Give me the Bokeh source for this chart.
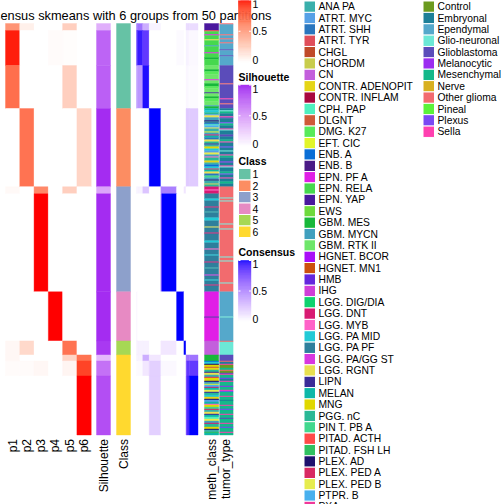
import numpy as np
from bokeh.plotting import figure
from bokeh.models import Range1d
from bokeh.core.properties import value
from bokeh.embed import file_html
from bokeh.resources import INLINE

# ------------------------------------------------------------------ data
TITLE = "Consensus skmeans with 6 groups from 50 partitions"
col_names = ["p1", "p2", "p3", "p4", "p5", "p6"]

# row segments (samples ordered as in the heatmap), group of each segment
seg_group = [1, 1, 1, 2, 3, 3, 4, 5, 6, 6, 6]
seg_size = [7, 35, 43, 78, 7, 98, 49, 14, 6, 15, 59]

# membership of each segment in partitions p1..p6
p1 = [0.55, 0.97, 0.72, 0.00, 0.03, 0.00, 0.00, 0.04, 0.04, 0.02, 0.00]
p2 = [0.08, 0.00, 0.00, 0.70, 0.00, 0.00, 0.00, 0.20, 0.00, 0.02, 0.00]
p3 = [0.00, 0.00, 0.00, 0.00, 0.60, 1.00, 0.00, 0.00, 0.00, 0.04, 0.00]
p4 = [0.00, 0.02, 0.00, 0.00, 0.00, 0.00, 1.00, 0.00, 0.00, 0.00, 0.00]
p5 = [0.25, 0.01, 0.25, 0.00, 0.25, 0.00, 0.00, 0.70, 0.22, 0.05, 0.00]
p6 = [0.00, 0.00, 0.00, 0.22, 0.00, 0.00, 0.00, 0.00, 0.70, 0.88, 1.00]

silhouette = [0.40, 0.76, 0.78, 0.97, 0.45, 0.97, 0.97, 0.93, 0.35, 0.70, 0.85]

# consensus between segments (rows x columns)
consensus = [
    [0.60, 0.60, 0.35, 0.05, 0.00, 0.00, 0.00, 0.00, 0.15, 0.15, 0.15],
    [0.85, 0.95, 0.85, 0.00, 0.00, 0.00, 0.02, 0.00, 0.05, 0.05, 0.03],
    [0.45, 0.45, 0.98, 0.00, 0.00, 0.00, 0.00, 0.00, 0.03, 0.03, 0.02],
    [0.00, 0.00, 0.00, 1.00, 0.00, 0.00, 0.00, 0.00, 0.22, 0.22, 0.22],
    [0.05, 0.05, 0.25, 0.00, 0.55, 0.55, 0.00, 0.10, 0.00, 0.00, 0.00],
    [0.00, 0.00, 0.00, 0.00, 0.70, 1.00, 0.00, 0.00, 0.00, 0.00, 0.00],
    [0.04, 0.00, 0.00, 0.00, 0.00, 0.00, 1.00, 0.00, 0.00, 0.00, 0.00],
    [0.06, 0.06, 0.06, 0.00, 0.10, 0.10, 0.00, 1.00, 0.00, 0.00, 0.00],
    [0.05, 0.05, 0.35, 0.10, 0.00, 0.00, 0.00, 0.00, 0.60, 0.60, 0.60],
    [0.02, 0.02, 0.10, 0.20, 0.03, 0.03, 0.00, 0.00, 0.70, 0.85, 0.85],
    [0.00, 0.00, 0.00, 0.20, 0.00, 0.00, 0.00, 0.00, 0.75, 0.90, 1.00],
]

class_labels = ["1", "2", "3", "4", "5", "6"]
class_colors = ["#66C2A5", "#FC8D62", "#8DA0CB", "#E78AC3", "#A6D854", "#FFD92F"]

meth_names = ["ANA PA", "ATRT. MYC", "ATRT. SHH", "ATRT. TYR", "CHGL", "CHORDM", "CN",
              "CONTR. ADENOPIT", "CONTR. INFLAM", "CPH. PAP", "DLGNT", "DMG. K27",
              "EFT. CIC", "ENB. A", "ENB. B", "EPN. PF A", "EPN. RELA", "EPN. YAP", "EWS",
              "GBM. MES", "GBM. MYCN", "GBM. RTK II", "HGNET. BCOR", "HGNET. MN1", "HMB",
              "IHG", "LGG. DIG/DIA", "LGG. DNT", "LGG. MYB", "LGG. PA MID", "LGG. PA PF",
              "LGG. PA/GG ST", "LGG. RGNT", "LIPN", "MELAN", "MNG", "PGG. nC",
              "PIN T. PB A", "PITAD. ACTH", "PITAD. FSH LH", "PLEX. AD", "PLEX. PED A",
              "PLEX. PED B", "PTPR. B", "PXA"]
meth_cols = ["#3AAFAB", "#56A0E6", "#2A76BE", "#E04E5A", "#C04A28", "#C8CC4C", "#C35FDC",
             "#E5D516", "#A8083E", "#4FF0BF", "#CF5A38", "#58EA5A",
             "#E2F52A", "#0A6ED6", "#4A1A86", "#E01EE6", "#46D84E", "#4A189E", "#6EDA3C",
             "#18B83A", "#40A0BE", "#6EE66A", "#A90EF8", "#CC500E", "#6426DE",
             "#D03ED8", "#0ED26E", "#D81A72", "#FF62C8", "#22CAD6", "#2E7F9C",
             "#D838E0", "#E8E050", "#3A2C98", "#0EB8A8", "#E0D800", "#2AB896",
             "#42D88E", "#FF4A48", "#30C060", "#1E106E", "#D82A62",
             "#E6EC4E", "#48B0EE", "#F0389A"]

tumor_names = ["Control", "Embryonal", "Ependymal", "Glio-neuronal", "Glioblastoma",
               "Melanocytic", "Mesenchymal", "Nerve", "Other glioma", "Pineal",
               "Plexus", "Sella"]
tumor_cols = ["#6B9A1F", "#1D7F98", "#55A8CB", "#6CE8D6", "#5B4CBA", "#9B2CF0",
              "#14B88A", "#D8B020", "#F26B6E", "#5AF23A", "#7A48F4", "#FF40B0"]

# annotation runs per group: (category, number of samples)
meth_g1 = [("EPN. YAP", 7), ("PITAD. ACTH", 1), ("EPN. RELA", 3), ("EPN. PF A", 1), ("EPN. RELA", 4),
           ("LGG. RGNT", 1), ("EPN. RELA", 5), ("GBM. MYCN", 1), ("EPN. RELA", 6), ("EPN. PF A", 1),
           ("EPN. RELA", 4), ("GBM. MES", 2), ("EPN. RELA", 6),
           ("GBM. RTK II", 4), ("GBM. MES", 2), ("DMG. K27", 3), ("GBM. RTK II", 5), ("EPN. PF A", 1),
           ("GBM. RTK II", 3), ("GBM. MES", 3), ("DMG. K27", 2), ("GBM. RTK II", 4), ("LIPN", 1),
           ("GBM. RTK II", 3), ("GBM. MES", 2), ("DMG. K27", 3), ("GBM. RTK II", 4), ("GBM. MYCN", 1),
           ("GBM. MES", 2)]
meth_g2 = [("MELAN", 2), ("LGG. PA MID", 2), ("PGG. nC", 2), ("ATRT. MYC", 1), ("LGG. RGNT", 2),
           ("GBM. MYCN", 3), ("PLEX. AD", 1), ("LGG. PA PF", 2), ("ENB. A", 1), ("CPH. PAP", 1),
           ("PTPR. B", 2), ("LGG. RGNT", 1), ("ANA PA", 3), ("EFT. CIC", 1), ("GBM. MYCN", 2),
           ("LGG. DNT", 1), ("MELAN", 2), ("ATRT. SHH", 2), ("LGG. RGNT", 2), ("PGG. nC", 2),
           ("LIPN", 1), ("ANA PA", 2), ("MNG", 2), ("LGG. PA MID", 2), ("ATRT. MYC", 2),
           ("PLEX. PED B", 2), ("GBM. MYCN", 2), ("LGG. MYB", 1), ("PGG. nC", 3), ("CONTR. ADENOPIT", 2),
           ("ANA PA", 2), ("ENB. A", 2), ("LGG. PA MID", 2), ("PLEX. PED A", 1), ("MELAN", 2),
           ("LGG. RGNT", 2), ("ATRT. SHH", 2), ("PIN T. PB A", 2), ("GBM. MYCN", 2), ("PLEX. AD", 1),
           ("ANA PA", 3), ("CHORDM", 1), ("PGG. nC", 2)]
meth_g3 = [("LGG. DNT", 3), ("LGG. MYB", 1), ("LGG. DNT", 3), ("LGG. PA PF", 5), ("LGG. PA MID", 2),
           ("LGG. PA PF", 6), ("LGG. DNT", 1), ("LGG. PA PF", 4), ("ANA PA", 1), ("LGG. PA PF", 5),
           ("LGG. PA MID", 3), ("LGG. PA PF", 6), ("LGG. RGNT", 1), ("LGG. PA PF", 5), ("LGG. DNT", 1),
           ("LGG. PA PF", 7), ("LGG. PA MID", 2), ("LGG. PA PF", 6), ("LGG. MYB", 1), ("LGG. PA PF", 5),
           ("LGG. PA MID", 1), ("LGG. PA PF", 6), ("LGG. DNT", 1), ("LGG. PA PF", 5), ("ANA PA", 1),
           ("LGG. PA PF", 6), ("LGG. PA/GG ST", 1), ("LGG. PA PF", 4), ("LGG. PA MID", 1),
           ("LGG. PA PF", 4), ("LGG. DNT", 1), ("LGG. PA PF", 6)]
meth_g4 = [("EPN. PF A", 25), ("EPN. YAP", 1), ("EPN. PF A", 23)]
meth_g5 = [("CN", 14)]
meth_g6 = [("GBM. MES", 6), ("ENB. A", 1), ("LGG. PA MID", 2), ("PLEX. AD", 1), ("MNG", 2), ("DLGNT", 1),
           ("CONTR. ADENOPIT", 2), ("PGG. nC", 2), ("LIPN", 1), ("LGG. RGNT", 2),
           ("ANA PA", 2), ("PLEX. PED A", 1), ("MNG", 3), ("PLEX. AD", 1), ("GBM. MYCN", 2),
           ("EFT. CIC", 1), ("PTPR. B", 2), ("LGG. DNT", 1), ("MELAN", 2), ("PLEX. PED B", 2),
           ("LIPN", 1), ("PGG. nC", 2), ("LGG. PA MID", 2), ("CONTR. ADENOPIT", 2), ("PLEX. AD", 1),
           ("ATRT. MYC", 2), ("MELAN", 2), ("LGG. MYB", 1), ("MNG", 2), ("PIN T. PB A", 2),
           ("PLEX. PED A", 1), ("ANA PA", 2), ("LGG. RGNT", 2), ("LIPN", 1), ("MELAN", 2),
           ("CPH. PAP", 2), ("PLEX. PED B", 2), ("GBM. MYCN", 2), ("LGG. DNT", 1), ("PGG. nC", 3),
           ("MNG", 2), ("PLEX. AD", 1), ("ANA PA", 2), ("PITAD. FSH LH", 1), ("MELAN", 2)]

tumor_g1 = [("Other glioma", 1), ("Ependymal", 10), ("Other glioma", 1), ("Ependymal", 3),
            ("Other glioma", 1), ("Ependymal", 3), ("Other glioma", 1), ("Ependymal", 6),
            ("Glioblastoma", 1), ("Ependymal", 5), ("Glioblastoma", 1), ("Ependymal", 9),
            ("Glioblastoma", 18), ("Other glioma", 1), ("Glioblastoma", 14), ("Sella", 1),
            ("Glioblastoma", 4), ("Other glioma", 1), ("Glioblastoma", 4)]
tumor_g2 = [("Embryonal", 2), ("Glio-neuronal", 1), ("Mesenchymal", 2), ("Embryonal", 3), ("Sella", 1),
            ("Glioblastoma", 1), ("Embryonal", 4), ("Plexus", 1), ("Mesenchymal", 2), ("Embryonal", 3),
            ("Sella", 1), ("Glio-neuronal", 1), ("Embryonal", 4), ("Glioblastoma", 2), ("Embryonal", 3),
            ("Mesenchymal", 2), ("Sella", 1), ("Embryonal", 4), ("Plexus", 1), ("Embryonal", 3),
            ("Glio-neuronal", 1), ("Embryonal", 3), ("Sella", 1), ("Mesenchymal", 2), ("Embryonal", 4),
            ("Melanocytic", 1), ("Embryonal", 3), ("Sella", 1), ("Glio-neuronal", 1), ("Embryonal", 4),
            ("Mesenchymal", 2), ("Plexus", 1), ("Embryonal", 3), ("Sella", 1), ("Embryonal", 3),
            ("Mesenchymal", 2), ("Embryonal", 3)]
tumor_g3 = [("Other glioma", 11), ("Glio-neuronal", 1), ("Other glioma", 2), ("Glio-neuronal", 1),
            ("Other glioma", 22), ("Glio-neuronal", 1), ("Other glioma", 4), ("Glio-neuronal", 1),
            ("Other glioma", 27), ("Glio-neuronal", 1), ("Other glioma", 3), ("Glio-neuronal", 1),
            ("Other glioma", 21), ("Glio-neuronal", 1), ("Other glioma", 8)]
tumor_g4 = [("Ependymal", 25), ("Glio-neuronal", 1), ("Ependymal", 23)]
tumor_g5 = [("Other glioma", 1), ("Glio-neuronal", 13)]
tumor_g6 = [("Glioblastoma", 6), ("Other glioma", 1), ("Embryonal", 2), ("Sella", 1), ("Control", 3),
            ("Mesenchymal", 2), ("Other glioma", 1), ("Control", 2), ("Glioblastoma", 1), ("Sella", 1),
            ("Mesenchymal", 3), ("Plexus", 1), ("Embryonal", 2), ("Sella", 1), ("Mesenchymal", 4),
            ("Melanocytic", 1), ("Mesenchymal", 3), ("Sella", 1), ("Plexus", 1), ("Mesenchymal", 4),
            ("Sella", 1), ("Mesenchymal", 3), ("Embryonal", 1), ("Mesenchymal", 4), ("Sella", 1),
            ("Mesenchymal", 3), ("Plexus", 1), ("Mesenchymal", 4), ("Sella", 1), ("Mesenchymal", 3),
            ("Glioblastoma", 1), ("Mesenchymal", 4), ("Sella", 1), ("Mesenchymal", 3),
            ("Plexus", 1), ("Mesenchymal", 4), ("Sella", 1), ("Mesenchymal", 2)]

meth_runs = [meth_g1, meth_g2, meth_g3, meth_g4, meth_g5, meth_g6]
tumor_runs = [tumor_g1, tumor_g2, tumor_g3, tumor_g4, tumor_g5, tumor_g6]

# ------------------------------------------------------------------ colour helpers (LAB ramps)
def _hex(h):
    h = h.lstrip("#")
    return np.array([int(h[i:i + 2], 16) for i in (0, 2, 4)], float)

_M = np.array([[0.4124, 0.3576, 0.1805], [0.2126, 0.7152, 0.0722], [0.0193, 0.1192, 0.9505]])
_W = np.array([0.95047, 1.0, 1.08883])

def _to_lab(rgb):
    c = rgb / 255.0
    c = np.where(c <= 0.04045, c / 12.92, ((c + 0.055) / 1.055) ** 2.4)
    xyz = _M @ c / _W
    f = np.where(xyz > 0.008856, np.cbrt(xyz), 7.787 * xyz + 16 / 116)
    return np.array([116 * f[1] - 16, 500 * (f[0] - f[1]), 200 * (f[1] - f[2])])

def _from_lab(lab):
    fy = (lab[0] + 16) / 116
    fx = fy + lab[1] / 500
    fz = fy - lab[2] / 200
    f = np.array([fx, fy, fz])
    xyz = np.where(f ** 3 > 0.008856, f ** 3, (f - 16 / 116) / 7.787) * _W
    c = np.linalg.solve(_M, xyz)
    c = np.clip(c, 0, 1)
    c = np.where(c <= 0.0031308, 12.92 * c, 1.055 * c ** (1 / 2.4) - 0.055)
    r, g, b = (np.clip(np.round(c * 255), 0, 255)).astype(int)
    return "#%02x%02x%02x" % (r, g, b)

def ramp(c1, t):
    a, b = _to_lab(_hex("#FFFFFF")), _to_lab(_hex(c1))
    t = float(min(max(t, 0), 1))
    return _from_lab(a + (b - a) * t)

RED, PURPLE, BLUE = "#FF0000", "#A020F0", "#0000FF"

# ------------------------------------------------------------------ layout (reference pixel space)
REF = 504.0
FW = 504
SC = FW / REF
HM_TOP, HM_BOT = 23.0, 434.5
MEMB_X0, MEMB_X1 = 5.0, 90.7
SIL_X = (96.0, 110.0)
CLS_X = (116.0, 130.0)
CONS_X = (136.0, 197.5)
METH_X = (204.0, 218.2)
TUM_X = (219.2, 232.6)
FONT = value("Liberation Sans")

def fs(px):
    return "%.2fpx" % (px * SC)

p = figure(width=FW, height=FW, x_range=Range1d(0, REF), y_range=Range1d(REF, 0),
           output_backend="svg", toolbar_location=None, min_border=0,
           x_axis_type=None, y_axis_type=None)
p.grid.visible = False
p.outline_line_color = None
p.background_fill_color = "white"

n = sum(seg_size)
rh = (HM_BOT - HM_TOP) / n
cum = np.concatenate([[0], np.cumsum(seg_size)])
seg_top = HM_TOP + cum[:-1] * rh
seg_bot = HM_TOP + cum[1:] * rh

def add_quads(L, R, T, B, C):
    p.quad(left=L, right=R, top=T, bottom=B, fill_color=C, line_color=C, line_width=0.4)

# title (drawn first so the legend covers it, like the original)
p.text(x=[120.5], y=[15.0], text=[TITLE], text_font=FONT, text_font_size=fs(12.8),
       text_align="center", text_baseline="alphabetic", text_color="black")

# membership heatmap
memb = [p1, p2, p3, p4, p5, p6]
cw = (MEMB_X1 - MEMB_X0) / len(memb)
L, R, T, B, C = [], [], [], [], []
for j, col in enumerate(memb):
    for k, v in enumerate(col):
        L.append(MEMB_X0 + j * cw); R.append(MEMB_X0 + (j + 1) * cw)
        T.append(seg_top[k]); B.append(seg_bot[k]); C.append(ramp(RED, v))
add_quads(L, R, T, B, C)

# silhouette
add_quads([SIL_X[0]] * len(seg_size), [SIL_X[1]] * len(seg_size), list(seg_top), list(seg_bot),
          [ramp(PURPLE, v) for v in silhouette])

# class
groups = sorted(set(seg_group))
g_start = {g: min(seg_top[i] for i in range(len(seg_group)) if seg_group[i] == g) for g in groups}
g_end = {g: max(seg_bot[i] for i in range(len(seg_group)) if seg_group[i] == g) for g in groups}
g_row0 = {g: min(cum[i] for i in range(len(seg_group)) if seg_group[i] == g) for g in groups}
add_quads([CLS_X[0]] * 6, [CLS_X[1]] * 6, [g_start[g] for g in groups], [g_end[g] for g in groups],
          [class_colors[g - 1] for g in groups])

# consensus matrix (columns are the same samples, squeezed)
cwx = (CONS_X[1] - CONS_X[0]) / n
L, R, T, B, C = [], [], [], [], []
for i in range(len(seg_size)):
    for j in range(len(seg_size)):
        L.append(CONS_X[0] + cum[j] * cwx); R.append(CONS_X[0] + cum[j + 1] * cwx)
        T.append(seg_top[i]); B.append(seg_bot[i]); C.append(ramp(BLUE, consensus[i][j]))
add_quads(L, R, T, B, C)

# annotations
mc = dict(zip(meth_names, meth_cols))
tc = dict(zip(tumor_names, tumor_cols))
for runs, xr, cmap in ((meth_runs, METH_X, mc), (tumor_runs, TUM_X, tc)):
    L, R, T, B, C = [], [], [], [], []
    for g, rl in zip(groups, runs):
        r0 = g_row0[g]
        for cat, cnt in rl:
            L.append(xr[0]); R.append(xr[1])
            T.append(HM_TOP + r0 * rh); B.append(HM_TOP + (r0 + cnt) * rh); C.append(cmap[cat])
            r0 += cnt
    add_quads(L, R, T, B, C)

# column labels (rotated)
lab_x = [MEMB_X0 + (j + 0.5) * cw for j in range(6)] + [sum(SIL_X) / 2, sum(CLS_X) / 2,
                                                          sum(METH_X) / 2, sum(TUM_X) / 2]
lab_t = col_names + ["Silhouette", "Class", "meth_class", "tumor_type"]
p.text(x=lab_x, y=[438.5] * len(lab_x), text=lab_t, angle=np.pi / 2, text_font=FONT,
       text_font_size=fs(12), text_align="right", text_baseline="middle", text_color="black")

# ------------------------------------------------------------------ legends
LX0, LX1 = 238.0, 250.5

def colorbar(ytop, ybot, col, labels):
    N = 80
    ys = np.linspace(ytop, ybot, N + 1)
    cols = [ramp(col, 1 - (k + 0.5) / N) for k in range(N)]
    p.quad(left=[LX0] * N, right=[LX1] * N, top=list(ys[:-1]), bottom=list(ys[1:]),
           fill_color=cols, line_color=cols, line_width=0.4)
    tick_v = [1.0, 0.5, 0.0]
    ty = [ybot - v * (ybot - ytop) for v in tick_v]
    p.segment(x0=[LX0] * 3 + [LX1 - 2] * 3, x1=[LX0 + 2] * 3 + [LX1] * 3, y0=ty * 2, y1=ty * 2,
              line_color="white", line_width=1)
    ly = [ty[0] + 3.5, ty[1], ty[2] - 3.0]
    p.text(x=[LX1 + 1.5] * 3, y=ly, text=labels, text_font=FONT, text_font_size=fs(10.5),
           text_baseline="middle", text_align="left", text_color="black")

colorbar(-0.5, 62.0, RED, ["1", "0.5", "0"])
p.text(x=[LX0], y=[76.5], text=["Silhouette"], text_font=FONT, text_font_size=fs(10.5),
       text_font_style="bold", text_baseline="middle", text_color="black")
colorbar(84.5, 146.0, PURPLE, ["1", "0.5", "0"])
p.text(x=[LX0], y=[160.0], text=["Class"], text_font=FONT, text_font_size=fs(10.5),
       text_font_style="bold", text_baseline="middle", text_color="black")
ch = 11.5
cy0 = 168.0
p.quad(left=[LX0] * 6, right=[LX1] * 6, top=[cy0 + k * ch for k in range(6)],
       bottom=[cy0 + (k + 1) * ch for k in range(6)], fill_color=class_colors,
       line_color="white", line_width=1)
p.text(x=[LX1 + 1.5] * 6, y=[cy0 + (k + 0.5) * ch for k in range(6)], text=class_labels,
       text_font=FONT, text_font_size=fs(10.5), text_baseline="middle", text_color="black")
p.text(x=[LX0], y=[251.7], text=["Consensus"], text_font=FONT, text_font_size=fs(10.5),
       text_font_style="bold", text_baseline="middle", text_color="black")
colorbar(260.0, 321.0, BLUE, ["1", "0.5", "0"])

# discrete legends for meth_class and tumor_type
SP = 11.37
def disc_legend(x0, names, cols, y0=0.5):
    k = len(names)
    tops = [y0 + i * SP for i in range(k)]
    p.quad(left=[x0] * k, right=[x0 + 11.5] * k, top=tops, bottom=[t + SP for t in tops],
           fill_color=cols, line_color="white", line_width=1)
    p.text(x=[x0 + 14.5] * k, y=[t + SP / 2 for t in tops], text=names, text_font=FONT,
           text_font_size=fs(10.3), text_baseline="middle", text_color="black")

disc_legend(303.5, meth_names, meth_cols)
disc_legend(422.5, tumor_names, tumor_cols)

open("out.html", "w").write(file_html(p, INLINE))
